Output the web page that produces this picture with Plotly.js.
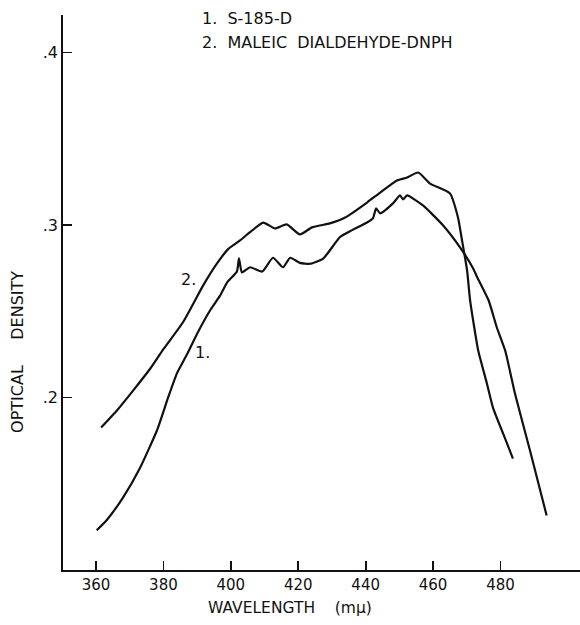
<!DOCTYPE html>
<html>
<head>
<meta charset="utf-8">
<script src="https://cdn.plot.ly/plotly-3.0.1.min.js"></script>
<style>html,body{margin:0;padding:0;background:#fff;}#chart{width:580px;height:625px;}</style>
</head>
<body>
<div id="chart"></div>
<script>
// Curve 1: S-185-D
const wl1 = [360.2, 363.2, 368, 373, 378.1, 381.4, 384, 387, 390, 394, 396.8, 399, 401.8, 402.4, 403.3, 405.7, 409.3, 412.5, 415.5, 417.6, 420.5, 423.5, 427.4, 432.4, 436, 440.4, 442.2, 443.1, 444.3, 448.1, 450.2, 451.1, 452.3, 457, 463, 468, 471.9, 473.1, 476.5, 478.9, 481.4, 484.3, 488.8, 493.7];
const od1 = [0.123, 0.129, 0.142, 0.159, 0.181, 0.200, 0.214, 0.225, 0.237, 0.251, 0.259, 0.267, 0.273, 0.2806, 0.2725, 0.2755, 0.273, 0.281, 0.2755, 0.281, 0.278, 0.2775, 0.2805, 0.293, 0.297, 0.3014, 0.304, 0.3096, 0.3067, 0.3125, 0.3171, 0.3148, 0.3171, 0.3113, 0.2997, 0.287, 0.2748, 0.2697, 0.2562, 0.2407, 0.2272, 0.2023, 0.169, 0.1316];
// Curve 2: Maleic dialdehyde-DNPH
const wl2 = [361.5, 366.2, 371, 376, 380, 385.8, 391.8, 395.9, 399.2, 402.7, 405.5, 409.6, 413.1, 416.6, 420.5, 424.1, 429.4, 433.9, 440.4, 444.3, 449.3, 452.3, 455.6, 459.1, 465, 467.4, 468.6, 470.1, 471, 473.4, 476, 477.8, 480.8, 483.7];
const od2 = [0.1826, 0.1925, 0.204, 0.2165, 0.228, 0.2436, 0.265, 0.2777, 0.286, 0.291, 0.2955, 0.3014, 0.298, 0.3003, 0.2945, 0.2986, 0.3009, 0.3043, 0.313, 0.3188, 0.3258, 0.3275, 0.3304, 0.324, 0.3183, 0.3043, 0.291, 0.2736, 0.2562, 0.2272, 0.208, 0.194, 0.179, 0.1646];

const xTicks = [360, 380, 400, 420, 440, 460, 480];
const xTickText = ["360", "380", "400", "420", "440", "460", "480"];
const yTicks = [0.2, 0.3, 0.4];
const yTickText = [".2", ".3", ".4"];

const legendLines = ["1.  S-185-D", "2.  MALEIC  DIALDEHYDE-DNPH"];
const curveLabels = ["1.", "2."];

const FONT = "DejaVu Sans, Liberation Sans, sans-serif";
const INK = "#111";
const lineStyle = {color: INK, width: 2.2, shape: "spline", smoothing: 0.5};

const traces = [
  {x: wl1, y: od1, mode: "lines", line: lineStyle, hoverinfo: "skip", showlegend: false},
  {x: wl2, y: od2, mode: "lines", line: lineStyle, hoverinfo: "skip", showlegend: false}
];

const layout = {
  width: 580, height: 625,
  margin: {l: 63, r: 0, t: 15, b: 55, pad: 0},
  paper_bgcolor: "#fff", plot_bgcolor: "#fff",
  font: {family: FONT, size: 15, color: INK},
  showlegend: false,
  xaxis: {
    range: [350.2, 503.6], showgrid: false, zeroline: false,
    showline: true, linecolor: INK, linewidth: 1.8,
    ticks: "inside", ticklen: 9, tickwidth: 1.8, tickcolor: INK,
    tickmode: "array", tickvals: xTicks, ticktext: xTickText,
    tickfont: {family: FONT, size: 15, color: INK}
  },
  yaxis: {
    range: [0.1, 0.4217], showgrid: false, zeroline: false,
    showline: true, linecolor: INK, linewidth: 1.8,
    ticks: "inside", ticklen: 9, tickwidth: 1.8, tickcolor: INK,
    tickmode: "array", tickvals: yTicks, ticktext: yTickText,
    tickfont: {family: FONT, size: 16, color: INK}
  },
  annotations: [
    {text: legendLines[0], x: 390.9, y: 0.4197, xref: "x", yref: "y", xanchor: "left", yanchor: "middle", showarrow: false, font: {family: FONT, size: 16, color: INK}},
    {text: legendLines[1], x: 390.9, y: 0.4058, xref: "x", yref: "y", xanchor: "left", yanchor: "middle", showarrow: false, font: {family: FONT, size: 16, color: INK}},
    {text: curveLabels[1], x: 387.3, y: 0.2684, xref: "x", yref: "y", xanchor: "center", yanchor: "middle", showarrow: false, font: {family: FONT, size: 16, color: INK}},
    {text: curveLabels[0], x: 391.5, y: 0.226, xref: "x", yref: "y", xanchor: "center", yanchor: "middle", showarrow: false, font: {family: FONT, size: 16, color: INK}},
    {text: "WAVELENGTH\u00A0\u00A0\u00A0\u00A0(mμ)", x: 0.439, y: -0.068, xref: "paper", yref: "paper", xanchor: "center", yanchor: "middle", showarrow: false, font: {family: FONT, size: 15.5, color: INK}},
    {text: "OPTICAL\u00A0\u00A0\u00A0\u00A0\u00A0DENSITY", x: -0.087, y: 0.393, xref: "paper", yref: "paper", xanchor: "center", yanchor: "middle", textangle: -90, showarrow: false, font: {family: FONT, size: 16, color: INK}}
  ]
};

Plotly.newPlot("chart", traces, layout, {staticPlot: true, displayModeBar: false});
</script>
</body>
</html>
